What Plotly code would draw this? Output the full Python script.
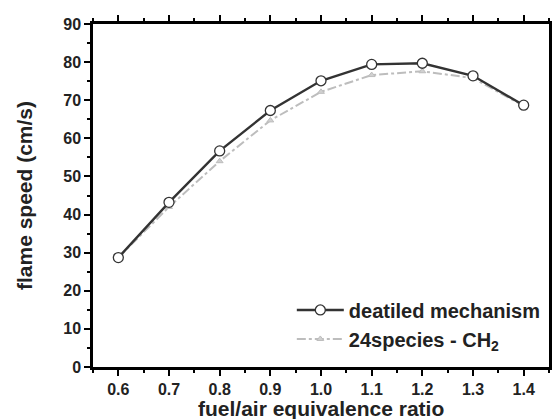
import plotly.graph_objects as go

phi = [0.6, 0.7, 0.8, 0.9, 1.0, 1.1, 1.2, 1.3, 1.4]
detailed = [28.7, 43.2, 56.7, 67.3, 75.1, 79.4, 79.7, 76.4, 68.7]
reduced = [28.7, 42.0, 54.0, 64.7, 72.2, 76.6, 77.6, 75.8, 68.5]

x_ticks = [0.6, 0.7, 0.8, 0.9, 1.0, 1.1, 1.2, 1.3, 1.4]
y_ticks = [0, 10, 20, 30, 40, 50, 60, 70, 80, 90]

FONT = "Liberation Sans, Arial"

fig = go.Figure()
fig.add_trace(go.Scatter(
    x=phi, y=reduced, mode="lines+markers", name="24species - CH<sub>2</sub>",
    line=dict(color="#bdbdbd", width=2, dash="dashdot"),
    marker=dict(symbol="triangle-up", size=6, color="#d0d0d0",
                line=dict(color="#bdbdbd", width=1)),
))
fig.add_trace(go.Scatter(
    x=phi, y=detailed, mode="lines+markers", name="deatiled mechanism",
    line=dict(color="#333333", width=2.4),
    marker=dict(symbol="circle", size=10, color="white",
                line=dict(color="#333333", width=1.3)),
))

axis_common = dict(
    showline=True, linecolor="black", linewidth=2.5, mirror="ticks",
    ticks="outside", ticklen=6, tickwidth=2, tickcolor="black",
    showgrid=False, zeroline=False, automargin=False,
    tickfont=dict(family=FONT, size=16, color="#222", weight="bold"),
    title_font=dict(family=FONT, size=21, color="#222", weight="bold"),
)

fig.update_xaxes(
    range=[0.55, 1.45], tickvals=x_ticks, ticktext=[f"{v:.1f}" for v in x_ticks],
    minor=dict(dtick=0.05, ticklen=3, tickwidth=2, tickcolor="black", ticks="outside"),
    **axis_common,
)
fig.update_yaxes(
    range=[0, 90], tickvals=y_ticks,
    title_text="flame speed (cm/s)", title_standoff=25,
    minor=dict(dtick=5, ticklen=3, tickwidth=2, tickcolor="black", ticks="outside"),
    **axis_common,
)

fig.add_annotation(
    text="fuel/air equivalence ratio", x=0.5, y=-0.12, xref="paper", yref="paper",
    xanchor="center", yanchor="middle", showarrow=False,
    font=dict(family=FONT, size=21, color="#222", weight="bold"),
)

fig.update_layout(
    width=552, height=419,
    margin=dict(l=93, r=3, t=24, b=52),
    paper_bgcolor="white", plot_bgcolor="white",
    showlegend=True,
    legend=dict(
        x=0.436, y=0.124, xanchor="left", yanchor="middle",
        traceorder="reversed", bgcolor="rgba(0,0,0,0)",
        font=dict(family=FONT, size=20, color="#222", weight="bold"),
        itemwidth=47, tracegroupgap=0,
    ),
)

fig.write_html("out.html",
               config={"displayModeBar": False},
               post_script="document.body.style.margin='0';document.body.style.overflow='hidden';")
